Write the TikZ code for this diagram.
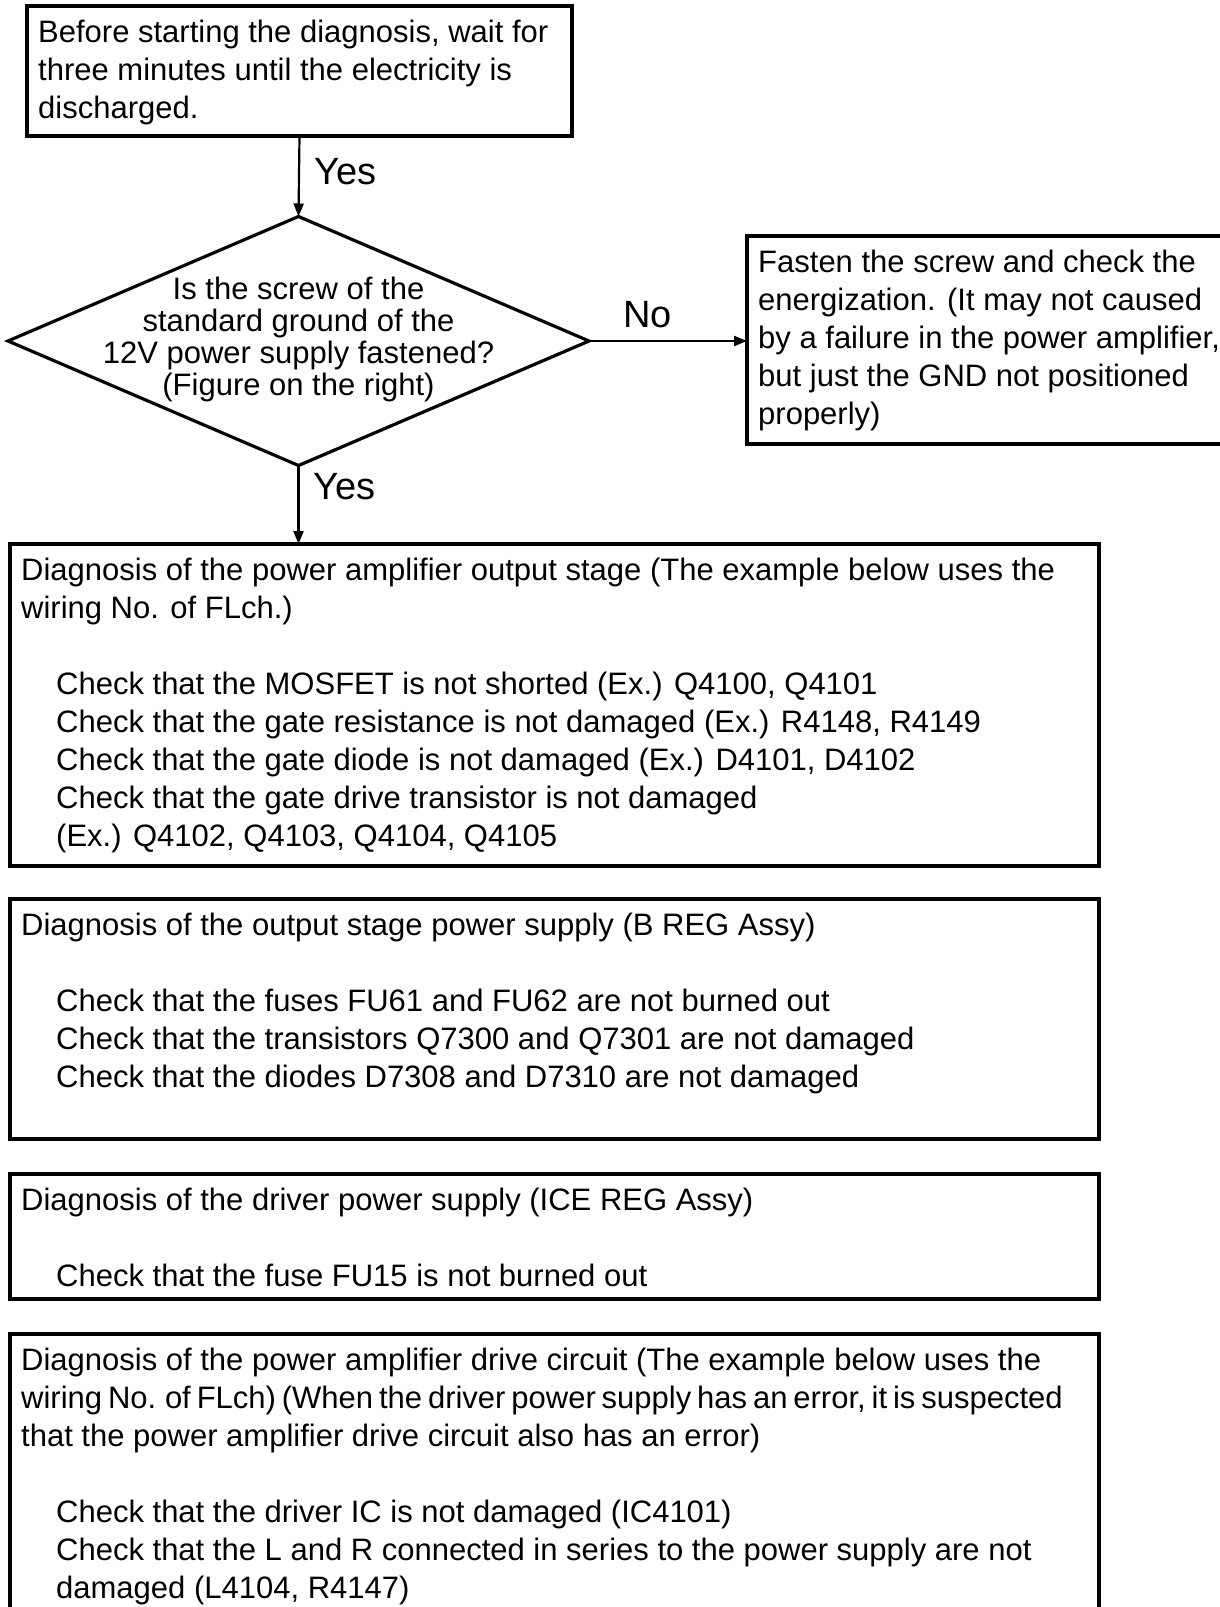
\documentclass[tikz,border=0pt]{standalone}
\usepackage{fontspec}
\setmainfont{Liberation Sans}
\usetikzlibrary{positioning,arrows.meta,shapes.geometric}
\tikzset{
  frame box/.style={draw=black,line width=3.2pt,anchor=north west,
    inner sep=0pt,outer sep=0pt},
  frame text/.style={anchor=north west,align=left,inner xsep=11pt,
    inner ysep=10pt,font=\fontsize{31}{38}\selectfont},
  ask box/.style={draw=black,line width=3.2pt,diamond,inner sep=0pt,
    outer sep=0pt,minimum width=581pt,minimum height=249pt},
  ask text/.style={align=center,inner sep=0pt,
    font=\fontsize{31}{32}\selectfont},
  flow arrow/.style={-{Triangle[length=13pt,width=10pt]},line width=2.2pt,black},
  flow label/.style={inner sep=0pt,font=\fontsize{38}{40}\selectfont}
}
\newcommand{\stepframe}[5]{%
  \node[frame box,minimum width=#3,minimum height=#4] (#1) at (#2) {};
  \node[frame text] (#1-txt) at (#1.north west) {\strut #5};
}
\newcommand{\bodyind}{\hspace*{35pt}}

\begin{document}
\begin{tikzpicture}[x=1pt,y=-1pt]
  \useasboundingbox (0,0) rectangle (1219,1607);

  % Discharge wait and ground screw check.
  \stepframe{wait}{27,6}{545pt}{130pt}{Before starting the diagnosis, wait for\\
    three minutes until the electricity is\\
    discharged.}
  \node[ask box] (screw) at (298.5,341) {};
  \node[ask text] (screw-txt) at ([yshift=2pt]screw.center)
    {Is the screw of the\\standard ground of the\\
     12V power supply fastened?\\(Figure on the right)};
  \stepframe{fasten}{747,236}{500pt}{208pt}{Fasten the screw and check the\\
    energization. (It may not caused\\
    by a failure in the power amplifier,\\
    but just the GND not positioned\\
    properly)}

  % Diagnosis steps.
  \stepframe{outstage}{10,544}{1089pt}{322pt}{Diagnosis of the power amplifier output stage (The example below uses the\\
    wiring No. of FLch.)\\[38pt]
    \bodyind Check that the MOSFET is not shorted (Ex.) Q4100, Q4101\\
    \bodyind Check that the gate resistance is not damaged (Ex.) R4148, R4149\\
    \bodyind Check that the gate diode is not damaged (Ex.) D4101, D4102\\
    \bodyind Check that the gate drive transistor is not damaged\\
    \bodyind (Ex.) Q4102, Q4103, Q4104, Q4105}
  \stepframe{outsupply}{10,899}{1089pt}{240pt}{Diagnosis of the output stage power supply (B REG Assy)\\[38pt]
    \bodyind Check that the fuses FU61 and FU62 are not burned out\\
    \bodyind Check that the transistors Q7300 and Q7301 are not damaged\\
    \bodyind Check that the diodes D7308 and D7310 are not damaged}
  \stepframe{drvsupply}{10,1174}{1089pt}{125pt}{Diagnosis of the driver power supply (ICE REG Assy)\\[38pt]
    \bodyind Check that the fuse FU15 is not burned out}
  \stepframe{drvcircuit}{10,1334}{1089pt}{320pt}{Diagnosis of the power amplifier drive circuit (The example below uses the\\
    {\spaceskip=0.19em wiring No. of FLch) (When the driver power supply has an error, it is suspected}\\
    that the power amplifier drive circuit also has an error)\\[38pt]
    \bodyind Check that the driver IC is not damaged (IC4101)\\
    \bodyind Check that the L and R connected in series to the power supply are not\\
    \bodyind damaged (L4104, R4147)}

  % Connectors.
  \draw[flow arrow] (wait.south) --
    node[flow label,right=14pt,pos=0.44] {Yes} (screw.north);
  \draw[flow arrow] (screw.east) --
    node[flow label,above=12pt,pos=0.37] {No} (screw.east -| fasten.west);
  \draw[flow arrow] (screw.south) --
    node[flow label,right=14pt,pos=0.27] {Yes} (screw.south |- outstage.north);
\end{tikzpicture}
\end{document}
